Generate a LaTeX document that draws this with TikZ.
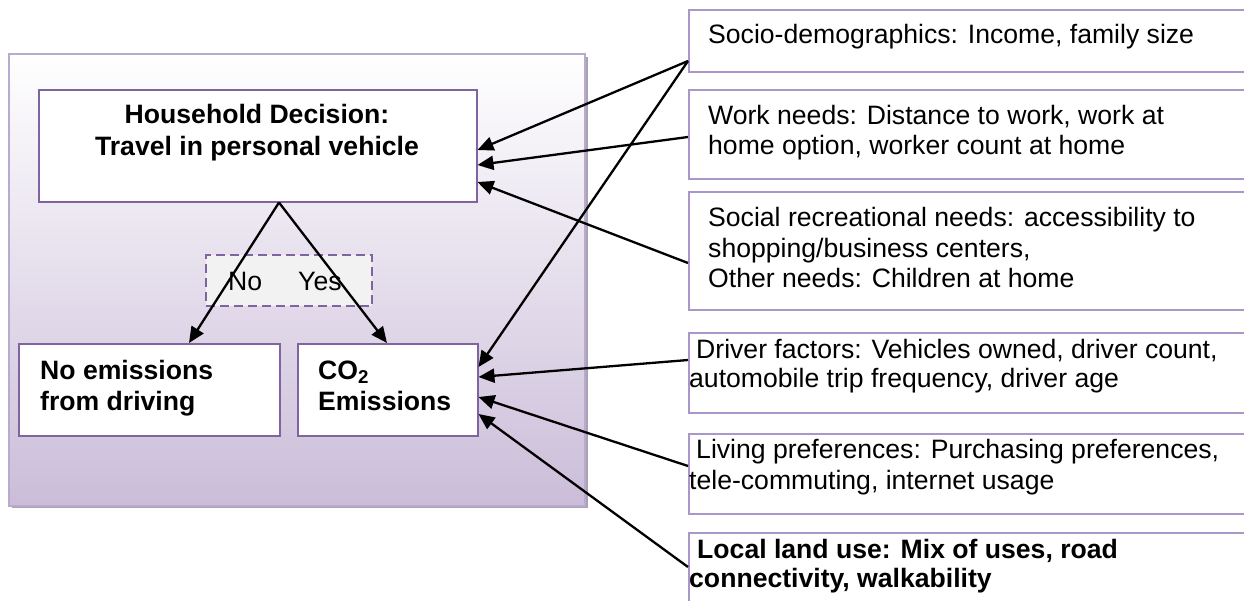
\documentclass[tikz,border=0pt]{standalone}
\usepackage{fontspec}
\setmainfont{Liberation Sans}
\usetikzlibrary{arrows.meta,calc}
\definecolor{panelbot}{HTML}{CBBDD9}
\definecolor{boxline}{HTML}{8064A2}
\definecolor{sideline}{HTML}{A897C8}
\definecolor{panelline}{HTML}{B9AACF}
\definecolor{shadowc}{HTML}{A8A2B2}
\definecolor{dashfill}{HTML}{F2F2F2}
\begin{document}
\begin{tikzpicture}[x=1pt,y=-1pt,
  every node/.style={font=\fontsize{26.6}{30.6}\selectfont},
  box/.style={draw=boxline,line width=1.5pt,fill=white,inner sep=0pt,anchor=north west},
  sidebox/.style={draw=sideline,line width=1.5pt,fill=white,inner sep=0pt,anchor=north west,minimum width=620pt},
  txt/.style={anchor=base west,inner sep=0pt},
  btxt/.style={inner sep=0pt,font=\fontsize{26.6}{30.6}\selectfont\bfseries},
  link/.style={line width=2.3pt,-{Triangle[length=16pt,width=14pt]}}]

\useasboundingbox (0,0) rectangle (1244,600);
\clip (0,0) rectangle (1244,600);

% background panel with its drop shadow
\fill[shadowc] (12,57) rectangle (588,508);
\shade[top color=white,bottom color=panelbot] (8,53) rectangle (584,505);
\node[draw=panelline,line width=1.5pt,inner sep=0pt,anchor=north west,
      minimum width=576pt,minimum height=452pt] (panel) at (8,53) {};

% decision box and its two outcomes
\node[box,minimum width=438pt,minimum height=112pt] (hh) at (38,89) {};
\node[btxt,anchor=base] at (257,123) {Household Decision:};
\node[btxt,anchor=base] at (257,155) {Travel in personal vehicle};

\node[box,minimum width=261pt,minimum height=92pt] (noe) at (18,343) {};
\node[btxt,anchor=base west] at (40,379) {No emissions};
\node[btxt,anchor=base west] at (40,410) {from driving};

\node[box,minimum width=180pt,minimum height=92pt] (co) at (297,343) {};
\node[btxt,anchor=base west] at (318,379) {CO\textsubscript{2}};
\node[btxt,anchor=base west] at (318,410) {Emissions};

% No / Yes label box
\node[draw=boxline,dash pattern=on 9pt off 5pt,line width=2pt,fill=dashfill,
      inner sep=0pt,anchor=north west,minimum width=166pt,minimum height=51pt] (ny) at (205,254) {};
\node[txt] at (228,290) {No};
\node[txt] at (298,290) {Yes};

% influencing factors
\node[sidebox,minimum height=62pt] (s1) at (688,9) {};
\node[txt] at (708,43) {Socio-demographics: Income, family size};

\node[sidebox,minimum height=89pt] (s2) at (688,89) {};
\node[txt] at (708,124) {Work needs: Distance to work, work at};
\node[txt] at (708,154) {home option, worker count at home};

\node[sidebox,minimum height=118pt] (s3) at (688,191) {};
\node[txt] at (708,226) {Social recreational needs: accessibility to};
\node[txt] at (708,257) {shopping/business centers,};
\node[txt] at (708,287) {Other needs: Children at home};

\node[sidebox,minimum height=80pt] (s4) at (688,332) {};
\node[txt] at (696,358) {Driver factors: Vehicles owned, driver count,};
\node[txt] at (689,387) {automobile trip frequency, driver age};

\node[sidebox,minimum height=80pt] (s5) at (688,433) {};
\node[txt] at (696,458) {Living preferences: Purchasing preferences,};
\node[txt] at (689,489) {tele-commuting, internet usage};

\node[sidebox,minimum height=100pt] (s6) at (688,532) {};
\node[btxt,anchor=base west] at (697,558) {Local land use: Mix of uses, road};
\node[btxt,anchor=base west] at (689,587) {connectivity, walkability};

% decision outcomes
\draw[link] ($(hh.south west)+(241,0)$) -- ($(noe.north west)+(171,0)$);
\draw[link] ($(hh.south west)+(241,0)$) -- ($(co.north west)+(90,0)$);

% factor influences
\draw[link] ($(s1.north west)+(0,52)$) -- ($(hh.north east)+(0,61)$);
\draw[link] ($(s1.north west)+(0,52)$) -- ($(co.north east)+(0,24)$);
\draw[link] ($(s2.north west)+(0,48)$) -- ($(hh.north east)+(0,76)$);
\draw[link] ($(s3.north west)+(0,72)$) -- ($(hh.north east)+(0,93)$);
\draw[link] ($(s4.north west)+(0,28)$) -- ($(co.north east)+(0,34)$);
\draw[link] ($(s5.north west)+(0,33)$) -- ($(co.north east)+(0,54)$);
\draw[link] ($(s6.north west)+(0,35)$) -- ($(co.north east)+(0,71)$);
\end{tikzpicture}
\end{document}
